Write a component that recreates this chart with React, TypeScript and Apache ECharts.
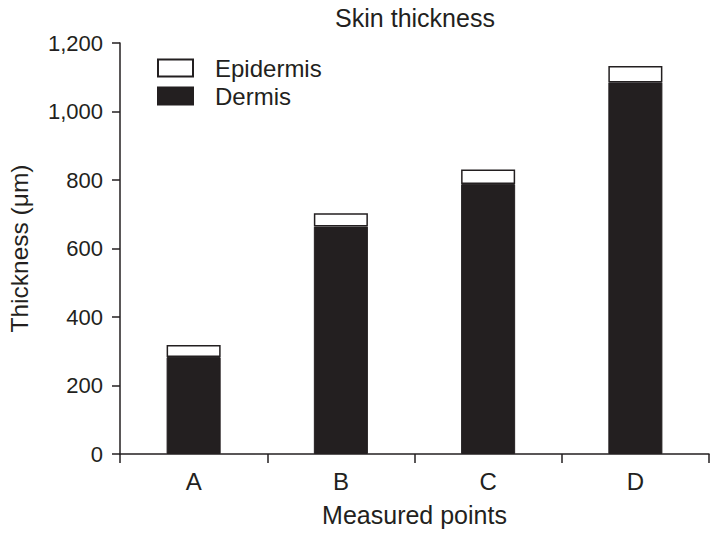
import React, { useEffect, useRef } from "react";
import * as echarts from "echarts";

const categories = ["A", "B", "C", "D"];
const dermis = [283, 664, 788, 1085];
const epidermis = [35, 39, 43, 48];
const yTicks = [0, 200, 400, 600, 800, 1000, 1200];

const INK = "#231f20";
const FONT = "Liberation Sans";

export default function App() {
  const ref = useRef<HTMLDivElement>(null);
  useEffect(() => {
    if (!ref.current) return;
    const chart = echarts.init(ref.current, undefined, { renderer: "svg" });
    chart.setOption({
      animation: false,
      backgroundColor: "#ffffff",
      textStyle: { fontFamily: FONT, color: INK },
      title: {
        text: "Skin thickness",
        left: 415,
        textAlign: "center",
        top: 5,
        padding: 0,
        textStyle: { fontFamily: FONT, fontSize: 25, fontWeight: "normal", color: INK },
      },
      legend: {
        data: ["Epidermis", "Dermis"],
        orient: "vertical",
        left: 157,
        top: 56,
        padding: 0,
        itemWidth: 35,
        itemHeight: 17,
        itemGap: 4,
        icon: "rect",
        textStyle: { fontFamily: FONT, fontSize: 24, color: INK, padding: [0, 0, 0, 17] },
      },
      grid: { left: 120, right: 6, top: 43, bottom: 80, containLabel: false, outerBoundsMode: "none" },
      xAxis: {
        type: "category",
        data: categories,
        name: "Measured points",
        nameLocation: "middle",
        nameGap: 48,
        nameTextStyle: { fontFamily: FONT, fontSize: 25, color: INK },
        axisLine: { lineStyle: { color: INK, width: 1.5 } },
        axisTick: { show: true, length: 9, lineStyle: { color: INK, width: 1.5 } },
        axisLabel: { fontFamily: FONT, fontSize: 24, color: INK, margin: 15 },
      },
      yAxis: {
        type: "value",
        min: yTicks[0],
        max: yTicks[yTicks.length - 1],
        interval: 200,
        name: "Thickness (μm)",
        nameLocation: "middle",
        nameGap: 88,
        nameTextStyle: { fontFamily: FONT, fontSize: 24.5, color: INK },
        axisLine: { show: true, lineStyle: { color: INK, width: 1.5 } },
        axisTick: { show: true, length: 8, lineStyle: { color: INK, width: 1.5 } },
        splitLine: { show: false },
        axisLabel: {
          fontFamily: FONT,
          fontSize: 22,
          color: INK,
          margin: 17,
          formatter: (v: number) => v.toLocaleString("en-US"),
        },
      },
      series: [
        {
          name: "Dermis",
          type: "bar",
          stack: "t",
          data: dermis,
          barWidth: "36.7%",
          itemStyle: { color: INK, borderColor: INK, borderWidth: 1 },
        },
        {
          name: "Epidermis",
          type: "bar",
          stack: "t",
          data: epidermis,
          barWidth: "36.7%",
          itemStyle: { color: "#ffffff", borderColor: INK, borderWidth: 1.5 },
        },
      ],
    });
    return () => chart.dispose();
  }, []);
  return <div ref={ref} style={{ width: 715, height: 534, position: "absolute", left: 0, top: 0 }} />;
}
